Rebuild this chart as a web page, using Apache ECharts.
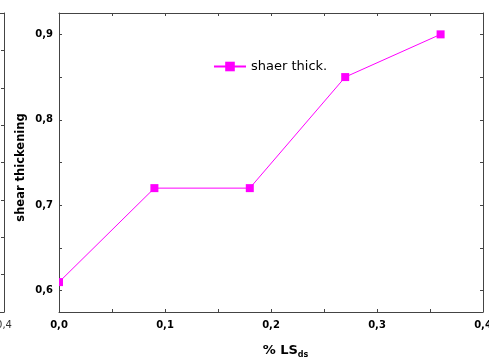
<!DOCTYPE html>
<html>
<head>
<meta charset="utf-8">
<script src="https://cdn.jsdelivr.net/npm/echarts@6/dist/echarts.min.js"></script>
<style>
  html, body { margin: 0; padding: 0; background: #fff; }
  #chart { width: 489px; height: 361px; }
</style>
</head>
<body>
<div id="chart"></div>
<script>
// Shear thickening versus % LS (ds)
const lsPercent = [0.0, 0.09, 0.18, 0.27, 0.36];
const shearThickening = [0.61, 0.72, 0.72, 0.85, 0.90];
const seriesName = 'shaer thick.';
const xLabelValues = [0, 0.1, 0.2, 0.3, 0.4];
const xTickValues = [0, 0.05, 0.1, 0.15, 0.2, 0.25, 0.3, 0.35, 0.4];
const yLabelValues = [0.6, 0.7, 0.8, 0.9];
const yTickValues = [0.6, 0.65, 0.7, 0.75, 0.8, 0.85, 0.9];

const FONT = 'DejaVu Sans';
const FRAME = '#444';
const comma = v => v.toFixed(1).replace('.', ',');

// first point sits on the left frame, so only its inner half shows
const points = lsPercent.map((x, i) => {
  const item = { value: [x, shearThickening[i]] };
  if (x === 0) { item.symbolSize = [4, 8]; item.symbolOffset = [2, 0]; }
  return item;
});

const frameLine = { show: true, onZero: false, lineStyle: { color: FRAME, width: 1 } };
const innerTick = { inside: true, length: 3, lineStyle: { color: FRAME } };

const chart = echarts.init(document.getElementById('chart'), null, { renderer: 'canvas' });
chart.setOption({
  animation: false,
  backgroundColor: '#fff',
  grid: [
    { left: 59, right: 6, top: 13, bottom: 49, outerBoundsMode: 'none', containLabel: false },
    // neighbouring panel, only its right edge is in view
    { left: -200, right: 485, top: 13, bottom: 49, outerBoundsMode: 'none', containLabel: false }
  ],
  legend: {
    data: [seriesName],
    left: 213,
    top: 60,
    padding: 0,
    itemWidth: 32,
    itemHeight: 12,
    itemGap: 5,
    textStyle: { fontFamily: FONT, fontSize: 13, color: '#000' }
  },
  xAxis: [
    {
      type: 'value', gridIndex: 0, position: 'bottom',
      min: 0, max: 0.4,
      axisLine: frameLine,
      axisTick: Object.assign({ customValues: xTickValues }, innerTick),
      axisLabel: {
        customValues: xLabelValues, margin: 8, formatter: comma,
        fontFamily: FONT, fontWeight: 'bold', fontSize: 10, color: '#000'
      },
      splitLine: { show: false },
      name: '{a|% LS}{b|ds}',
      nameLocation: 'middle',
      nameGap: 31,
      nameTextStyle: {
        padding: [0, 0, 0, 29],
        rich: {
          a: { fontFamily: FONT, fontWeight: 'bold', fontSize: 13, color: '#000' },
          b: { fontFamily: FONT, fontWeight: 'bold', fontSize: 8, color: '#000', padding: [8, 0, 0, 0] }
        }
      }
    },
    {
      type: 'value', gridIndex: 0, position: 'top',
      min: 0, max: 0.4,
      axisLine: frameLine,
      axisTick: Object.assign({ customValues: xTickValues }, innerTick),
      axisLabel: { show: false },
      splitLine: { show: false }
    },
    {
      type: 'value', gridIndex: 1, position: 'bottom',
      min: 0, max: 0.4, interval: 0.1,
      axisLine: frameLine,
      axisTick: innerTick,
      axisLabel: {
        margin: 8, formatter: comma,
        fontFamily: FONT, fontSize: 10, color: '#333'
      },
      splitLine: { show: false }
    },
    {
      type: 'value', gridIndex: 1, position: 'top',
      min: 0, max: 0.4, interval: 0.1,
      axisLine: frameLine,
      axisTick: { show: false },
      axisLabel: { show: false },
      splitLine: { show: false }
    }
  ],
  yAxis: [
    {
      type: 'value', gridIndex: 0, position: 'left',
      min: 0.575, max: 0.925,
      axisLine: frameLine,
      axisTick: Object.assign({ customValues: yTickValues }, innerTick),
      axisLabel: {
        customValues: yLabelValues, margin: 6, formatter: comma,
        fontFamily: FONT, fontWeight: 'bold', fontSize: 10, color: '#000'
      },
      splitLine: { show: false },
      name: 'shear thickening',
      nameLocation: 'middle',
      nameGap: 32,
      nameMoveOverlap: false,
      nameTextStyle: {
        fontFamily: FONT, fontWeight: 'bold', fontSize: 11.5, color: '#000',
        padding: [0, 10, 0, 0]
      }
    },
    {
      type: 'value', gridIndex: 0, position: 'right',
      min: 0.575, max: 0.925,
      axisLine: frameLine,
      axisTick: Object.assign({ customValues: yTickValues }, innerTick),
      axisLabel: { show: false },
      splitLine: { show: false }
    },
    {
      type: 'value', gridIndex: 1, position: 'right',
      min: 0, max: 8, interval: 1,
      axisLine: frameLine,
      axisTick: innerTick,
      axisLabel: { show: false },
      splitLine: { show: false }
    }
  ],
  series: [
    {
      name: seriesName,
      type: 'line',
      xAxisIndex: 0,
      yAxisIndex: 0,
      data: points,
      symbol: 'rect',
      symbolSize: 8,
      color: '#ff00ff',
      lineStyle: { color: '#ff00ff', width: 1 },
      itemStyle: { color: '#ff00ff' }
    }
  ]
});
</script>
</body>
</html>
